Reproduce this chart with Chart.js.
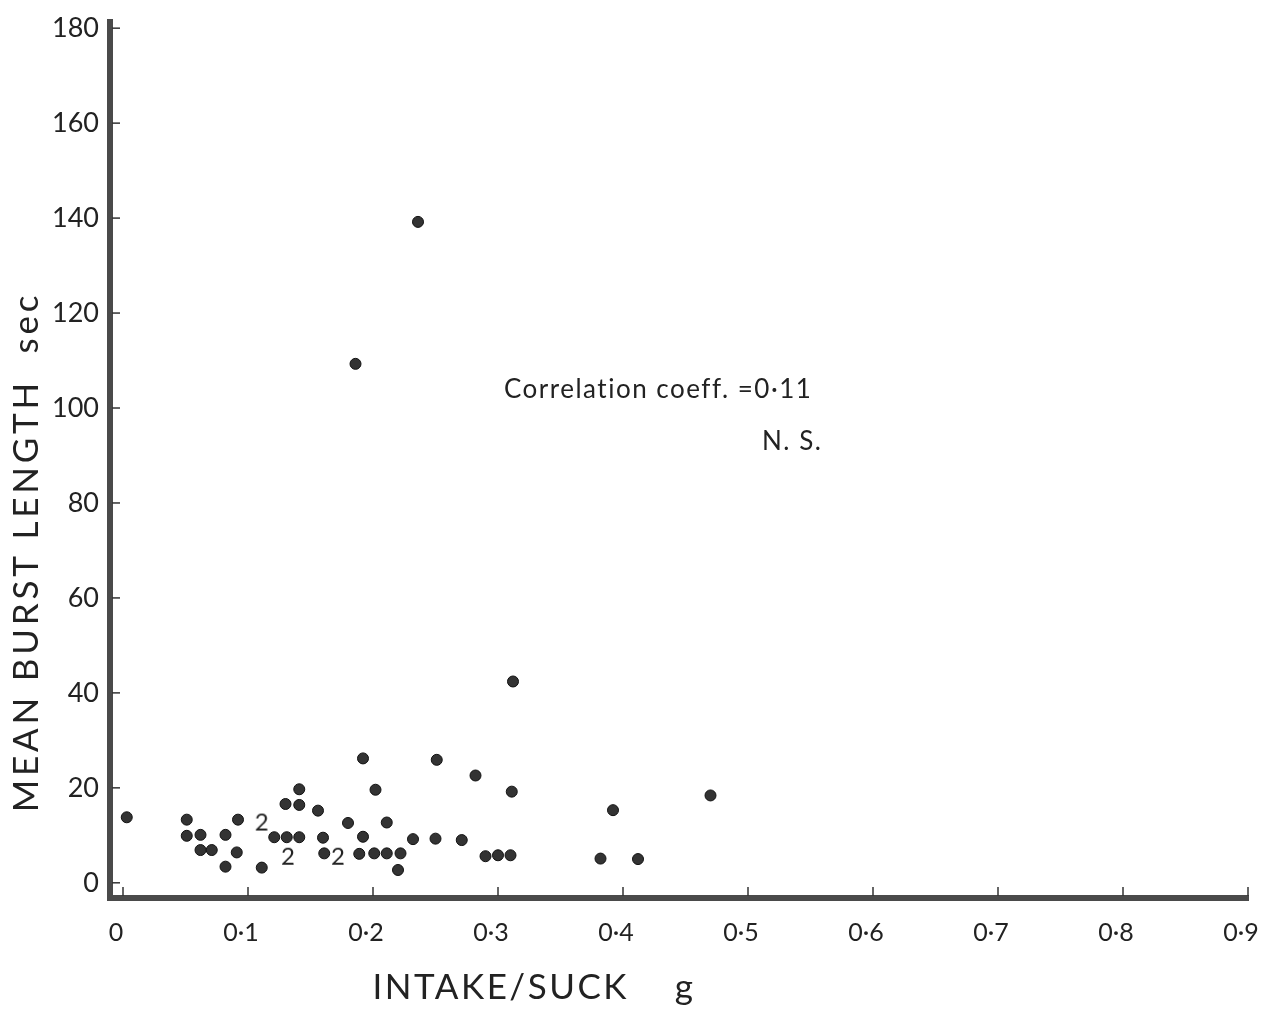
<!DOCTYPE html>
<html lang="en">
<head>
    <meta charset="UTF-8">
    <title>Mean burst length vs intake per suck</title>
    <script src="https://cdn.jsdelivr.net/npm/chart.js"></script>
    <style>
        html, body {
            margin: 0;
            padding: 0;
            background: #fff;
        }
        #wrap {
            width: 1272px;
            height: 1022px;
        }
    </style>
</head>
<body>
    <div id="wrap">
        <canvas id="scatter" width="1272" height="1022"></canvas>
    </div>

    <script>
        // Intake per suck (g) and mean burst length (sec), one entry per point
        const intake = [0.003, 0.051, 0.051, 0.062, 0.062, 0.071, 0.082, 0.082, 0.092, 0.091,
                        0.111, 0.121, 0.130, 0.131, 0.141, 0.141, 0.141, 0.156, 0.160, 0.161,
                        0.180, 0.186, 0.189, 0.192, 0.192, 0.201, 0.202, 0.211, 0.211, 0.220,
                        0.222, 0.232, 0.236, 0.250, 0.251, 0.271, 0.282, 0.290, 0.300, 0.310,
                        0.311, 0.312, 0.382, 0.392, 0.412, 0.470];
        const burst = [13.8, 13.3, 9.9, 10.1, 6.9, 6.9, 10.1, 3.4, 13.3, 6.4,
                       3.2, 9.6, 16.6, 9.6, 19.7, 16.4, 9.6, 15.2, 9.5, 6.2,
                       12.6, 109.3, 6.1, 26.2, 9.7, 6.2, 19.6, 12.7, 6.2, 2.7,
                       6.2, 9.2, 139.2, 9.3, 25.9, 9.0, 22.6, 5.6, 5.8, 5.8,
                       19.2, 42.4, 5.1, 15.3, 5.0, 18.4];

        // Places where two observations coincide (printed as "2")
        const pairIntake = [0.111, 0.132, 0.172];
        const pairBurst = [12.9, 5.7, 5.7];

        const xTicks = [0, 0.1, 0.2, 0.3, 0.4, 0.5, 0.6, 0.7, 0.8, 0.9];
        const xTickLabels = ['0', '0·1', '0·2', '0·3', '0·4', '0·5', '0·6', '0·7', '0·8', '0·9'];
        const yTicks = [0, 20, 40, 60, 80, 100, 120, 140, 160, 180];

        const noteText = ['Correlation coeff. =0·11', 'N. S.'];
        const noteX = [0.3048, 0.5112];
        const noteY = [103.8, 93.0];

        const FONT = 'Lato, "Open Sans", "DejaVu Sans", sans-serif';
        const INK = '#222';
        const AXIS = '#4a4a4a';

        // the "2" marker is a small canvas used as the point style
        const two = document.createElement('canvas');
        two.width = 20;
        two.height = 26;
        const tctx = two.getContext('2d');
        tctx.fillStyle = INK;
        tctx.font = '400 24px ' + FONT;
        tctx.textAlign = 'center';
        tctx.textBaseline = 'middle';
        tctx.fillText('2', 10, 14);

        const points = intake.map((v, i) => ({ x: v, y: burst[i] }));
        const pairs = pairIntake.map((v, i) => ({ x: v, y: pairBurst[i] }));

        // short tick marks drawn on the inside of both axes
        const insideTicks = {
            id: 'insideTicks',
            afterDraw(chart) {
                const { ctx, chartArea, scales } = chart;
                ctx.save();
                ctx.strokeStyle = '#333';
                ctx.lineWidth = 1.5;
                yTicks.forEach(t => {
                    const py = scales.y.getPixelForValue(t);
                    ctx.beginPath();
                    ctx.moveTo(chartArea.left + 2, py);
                    ctx.lineTo(chartArea.left + 10, py);
                    ctx.stroke();
                });
                xTicks.forEach(t => {
                    const px = scales.x.getPixelForValue(t);
                    ctx.beginPath();
                    ctx.moveTo(px, chartArea.bottom - 2);
                    ctx.lineTo(px, chartArea.bottom - 11);
                    ctx.stroke();
                });
                ctx.restore();
            }
        };

        // correlation note and axis titles
        const textLayer = {
            id: 'textLayer',
            afterDraw(chart) {
                const { ctx, scales } = chart;
                ctx.save();
                ctx.fillStyle = INK;
                ctx.textBaseline = 'middle';
                ctx.textAlign = 'left';
                ctx.letterSpacing = '1.5px';
                ctx.font = '400 26px ' + FONT;
                noteText.forEach((t, i) => {
                    ctx.fillText(t, scales.x.getPixelForValue(noteX[i]), scales.y.getPixelForValue(noteY[i]));
                });

                ctx.letterSpacing = '2.5px';
                ctx.font = '400 35px ' + FONT;
                ctx.textAlign = 'center';
                ctx.fillText('INTAKE/SUCK    g', 534, 988);

                ctx.translate(27, 552);
                ctx.rotate(-Math.PI / 2);
                ctx.letterSpacing = '3.8px';
                ctx.font = '400 35px ' + FONT;
                ctx.fillText('MEAN BURST LENGTH  sec', 0, 0);
                ctx.restore();
            }
        };

        new Chart(document.getElementById('scatter'), {
            type: 'scatter',
            data: {
                datasets: [{
                    label: 'Burst length',
                    data: points,
                    pointStyle: 'circle',
                    pointRadius: 5.5,
                    pointHoverRadius: 5.5,
                    backgroundColor: '#333',
                    borderColor: '#111',
                    borderWidth: 1
                }, {
                    label: 'Two points',
                    data: pairs,
                    pointStyle: two,
                    pointRadius: 10
                }]
            },
            options: {
                responsive: false,
                animation: false,
                layout: {
                    padding: { top: 22, right: 24, left: 0, bottom: 0 }
                },
                plugins: {
                    legend: { display: false },
                    tooltip: { enabled: false }
                },
                scales: {
                    x: {
                        type: 'linear',
                        min: -0.0104,
                        max: 0.9,
                        afterFit(scale) {
                            scale.height = 124;
                            scale.paddingLeft = 0;
                            scale.paddingRight = 0;
                        },
                        afterBuildTicks(scale) { scale.ticks = xTicks.map(v => ({ value: v })); },
                        grid: { display: false, drawTicks: false },
                        border: { display: true, color: AXIS, width: 6 },
                        ticks: {
                            padding: 20,
                            labelOffset: -7,
                            color: INK,
                            font: { family: FONT, size: 25, weight: '400' },
                            callback: (v) => {
                                const i = xTicks.findIndex(t => Math.abs(t - v) < 1e-6);
                                return i >= 0 ? xTickLabels[i] : '';
                            }
                        }
                    },
                    y: {
                        type: 'linear',
                        min: -3.2,
                        max: 181.3,
                        afterFit(scale) {
                            scale.width = 110;
                            scale.paddingTop = 0;
                            scale.paddingBottom = 0;
                        },
                        afterBuildTicks(scale) { scale.ticks = yTicks.map(v => ({ value: v })); },
                        grid: { display: false, drawTicks: false },
                        border: { display: true, color: AXIS, width: 6 },
                        ticks: {
                            padding: 11,
                            color: INK,
                            font: { family: FONT, size: 27, weight: '400' }
                        }
                    }
                }
            },
            plugins: [insideTicks, textLayer]
        });
    </script>
</body>
</html>
